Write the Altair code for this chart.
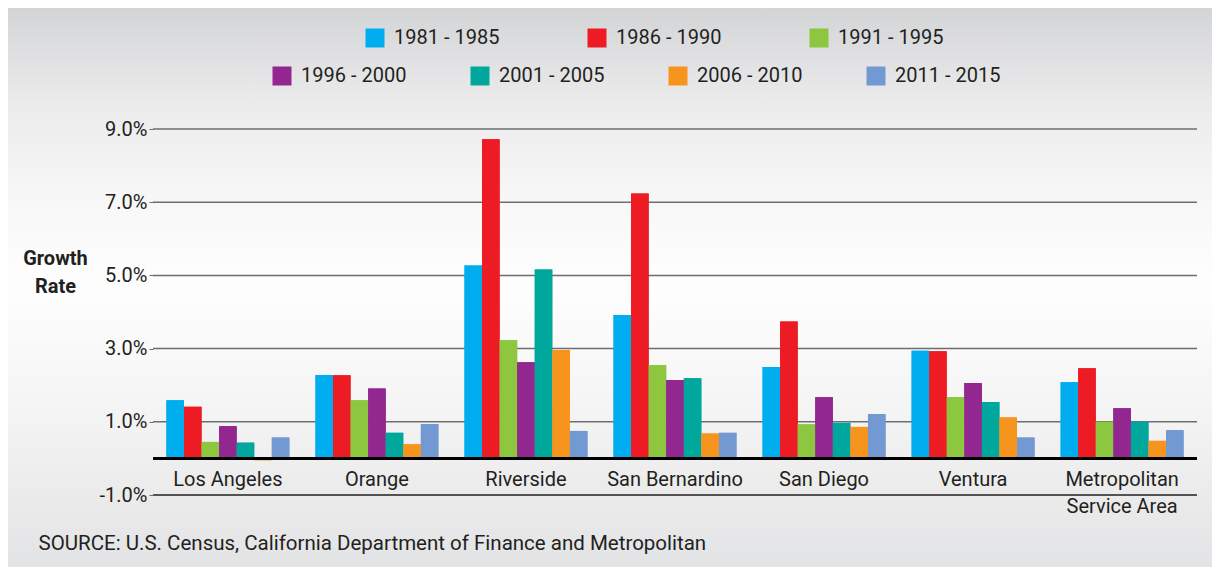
import altair as alt
import pandas as pd

counties = ["Los Angeles", "Orange", "Riverside", "San Bernardino",
            "San Diego", "Ventura", "Metropolitan Service Area"]
periods = ["1981 - 1985", "1986 - 1990", "1991 - 1995", "1996 - 2000",
           "2001 - 2005", "2006 - 2010", "2011 - 2015"]
colors = ["#00aeef", "#ed1c24", "#8dc63f", "#92278f", "#00a79d", "#f7941d", "#7299d1"]

g_1981_1985 = [1.59, 2.28, 5.27, 3.92, 2.50, 2.94, 2.08]
g_1986_1990 = [1.41, 2.27, 8.72, 7.24, 3.74, 2.93, 2.46]
g_1991_1995 = [0.45, 1.59, 3.23, 2.55, 0.93, 1.68, 1.00]
g_1996_2000 = [0.88, 1.91, 2.63, 2.14, 1.67, 2.06, 1.37]
g_2001_2005 = [0.43, 0.70, 5.16, 2.19, 0.97, 1.54, 1.00]
g_2006_2010 = [-0.05, 0.39, 2.96, 0.68, 0.86, 1.12, 0.48]
g_2011_2015 = [0.57, 0.94, 0.75, 0.70, 1.21, 0.57, 0.77]

grid_values = [1, 3, 5, 7, 9]
tick_values = [-1, 1, 3, 5, 7, 9]
source_text = "SOURCE: U.S. Census, California Department of Finance and Metropolitan"

series = [g_1981_1985, g_1986_1990, g_1991_1995, g_1996_2000,
          g_2001_2005, g_2006_2010, g_2011_2015]
rows = []
for p, vals in zip(periods, series):
    for c, v in zip(counties, vals):
        rows.append({"county": c, "period": p, "rate": v})
df = pd.DataFrame(rows)

W, H = 1044, 366
ydom = [-1, 9]

x_enc = alt.X("county:N", sort=counties,
              scale=alt.Scale(paddingInner=0.175, paddingOuter=0.09),
              axis=alt.Axis(title=source_text, labelAngle=0, domain=False, ticks=False,
                            labelFont="Roboto", labelFontSize=20, labelColor="#231f20",
                            labelBaseline="top", labelPadding=-26, labelLineHeight=27,
                            labelExpr="datum.value === 'Metropolitan Service Area' ? ['Metropolitan', 'Service Area'] : datum.value",
                            titleFont="Roboto", titleFontSize=20.5, titleFontWeight="normal",
                            titleColor="#231f20", titleAlign="left", titleBaseline="alphabetic",
                            titleX=-115, titleY=54, zindex=1))
y_enc = alt.Y("rate:Q", scale=alt.Scale(domain=ydom, nice=False, zero=False),
              axis=alt.Axis(title=["Growth", "Rate"], values=tick_values, grid=False,
                            domain=False, ticks=True, tickSize=4, tickColor="#6d6e71",
                            labelPadding=2, labelFont="Roboto", labelFontSize=20,
                            labelColor="#231f20",
                            labelExpr="(datum.value < 0 ? '-' : '') + format(abs(datum.value), '.1f') + '%'",
                            titleAngle=0, titleFont="Roboto", titleFontSize=20,
                            titleFontWeight="bold", titleColor="#231f20",
                            titleAlign="center", titleBaseline="alphabetic",
                            titleLineHeight=28, titleX=-98, titleY=135, zindex=1))

gradient = {
    "gradient": "linear", "x1": 0, "x2": 0, "y1": 0, "y2": 1,
    "stops": [
        {"offset": 0.0, "color": "#d3d4d6"},
        {"offset": 0.17, "color": "#ebebec"},
        {"offset": 0.35, "color": "#f8f8f8"},
        {"offset": 0.5, "color": "#fefefe"},
        {"offset": 0.72, "color": "#f4f4f5"},
        {"offset": 0.9, "color": "#e9e9ea"},
        {"offset": 1.0, "color": "#e2e3e5"},
    ],
}

panel_df = pd.DataFrame({"panel": [1]})
shadow = alt.Chart(panel_df).mark_rect(color="#cfd0d2").encode(
    x=alt.value(-146), x2=alt.value(1066), y=alt.value(-118), y2=alt.value(446))
panel = alt.Chart(panel_df).mark_rect(color=gradient).encode(
    x=alt.value(-150), x2=alt.value(1060), y=alt.value(-122), y2=alt.value(441))

grid = alt.Chart(pd.DataFrame({"g": grid_values})).mark_rule(
    color="#6d6e71", strokeWidth=1.5).encode(y=alt.Y("g:Q", scale=alt.Scale(domain=ydom, nice=False, zero=False)))

bars_a = alt.Chart(df).mark_bar().encode(
    x=x_enc, y=y_enc, y2=alt.datum(0),
    xOffset=alt.XOffset("period:N", sort=periods, scale=alt.Scale(paddingInner=0, paddingOuter=0)),
    color=alt.Color("period:N", sort=periods, scale=alt.Scale(range=colors),
                    legend=alt.Legend(values=periods[:3], title=None, orient="none",
                                      legendX=212, legendY=-101, direction="horizontal",
                                      symbolType="square", symbolSize=361, symbolStrokeWidth=0,
                                      labelFont="Roboto", labelFontSize=20, labelColor="#231f20",
                                      labelOffset=9, columnPadding=87)),
)
bars_b = alt.Chart(df).transform_calculate(period_b="datum.period").mark_bar().encode(
    x=x_enc, y=y_enc, y2=alt.datum(0),
    xOffset=alt.XOffset("period:N", sort=periods, scale=alt.Scale(paddingInner=0, paddingOuter=0)),
    fill=alt.Fill("period_b:N", sort=periods, scale=alt.Scale(range=colors),
                  legend=alt.Legend(values=periods[3:], title=None, orient="none",
                                    legendX=119, legendY=-63, direction="horizontal",
                                    symbolType="square", symbolSize=361, symbolStrokeWidth=0,
                                    labelFont="Roboto", labelFontSize=20, labelColor="#231f20",
                                    labelOffset=9, columnPadding=63)),
)

base_df = pd.DataFrame({"b": [-1]})
bottom_line = alt.Chart(base_df).mark_rule(color="#231f20", strokeWidth=1.5).encode(
    y=alt.Y("b:Q", scale=alt.Scale(domain=ydom, nice=False, zero=False)))
zero_df = pd.DataFrame({"z": [0]})
zero_line = alt.Chart(zero_df).mark_rule(color="#000000", strokeWidth=3).encode(
    y=alt.Y("z:Q", scale=alt.Scale(domain=ydom, nice=False, zero=False)))

chart = alt.layer(shadow, panel, grid, bars_a, bars_b, bottom_line, zero_line).resolve_scale(
    y="shared").properties(
    width=W, height=H,
    autosize=alt.AutoSizeParams(type="none"),
    padding={"left": 145, "top": 121, "right": 15, "bottom": 72},
    background="#ffffff",
).configure_view(stroke=None)

chart.save("out.html", embed_options={"renderer": "svg", "actions": False})
